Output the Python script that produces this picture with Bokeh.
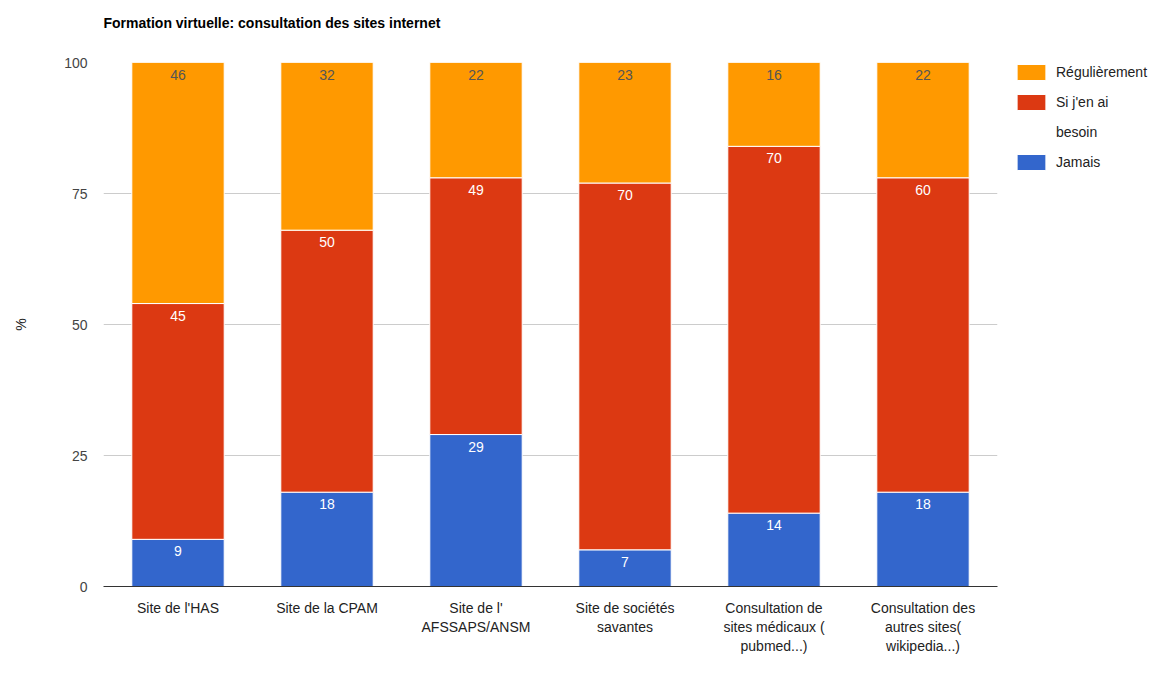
from bokeh.plotting import figure
from bokeh.models import ColumnDataSource, Legend, LegendItem, FixedTicker, Title
from bokeh.embed import file_html
from bokeh.resources import INLINE
from bokeh.core.properties import value

categories = ["Site de l'HAS", "Site de la CPAM", "Site de l'\nAFSSAPS/ANSM",
              "Site de sociétés\nsavantes", "Consultation de\nsites médicaux (\npubmed...)",
              "Consultation des\nautres sites(\nwikipedia...)"]
jamais = [9, 18, 29, 7, 14, 18]
besoin = [45, 50, 49, 70, 70, 60]
regulier = [46, 32, 22, 23, 16, 22]
series = ["Jamais", "Si j'en ai", "Régulièrement"]
series_cont = "besoin"
colors = ["#3366CC", "#DC3912", "#FF9900"]
yticks = [0, 25, 50, 75, 100]
title_text = "Formation virtuelle: consultation des sites internet"

FONT = "Liberation Sans"

src = ColumnDataSource(dict(cat=categories, j=jamais, b=besoin, r=regulier))

p = figure(x_range=categories, y_range=(0, 100), frame_width=894, frame_height=524,
           output_backend="svg", toolbar_location=None, title_location=None,
           min_border_left=103, min_border_top=62, min_border_bottom=70, min_border_right=160)

# spacer between title and plot area
p.add_layout(Title(text=" ", text_font_size="20px", standoff=3), "above")
p.add_layout(Title(text=title_text, text_font=FONT, text_font_size="14px",
                   text_font_style="bold", text_color="#000000", offset=0, standoff=10),
             "above")

renderers = p.vbar_stack(["j", "b", "r"], x="cat", width=0.62, color=colors,
                         line_color="white", line_width=1, source=src)
# invisible renderer, only used for the second line of a legend label
blank = p.vbar(x=[], top=[], width=0.5, fill_alpha=0, line_alpha=0)

tops_j = jamais
tops_b = [a + b for a, b in zip(jamais, besoin)]
tops_r = [a + b + c for a, b, c in zip(jamais, besoin, regulier)]
lab = ColumnDataSource(dict(
    x=categories * 3,
    y=tops_j + tops_b + tops_r,
    t=[str(v) for v in jamais + besoin + regulier],
    c=["#ffffff"] * 12 + ["#555555"] * 6))
p.text(x="x", y="y", text="t", text_color="c", source=lab, y_offset=7,
       text_align="center", text_baseline="top", text_font=value(FONT),
       text_font_size="14px")

items = [LegendItem(label=series[2], renderers=[renderers[2]]),
         LegendItem(label=series[1], renderers=[renderers[1]]),
         LegendItem(label=series_cont, renderers=[blank]),
         LegendItem(label=series[0], renderers=[renderers[0]])]
legend = Legend(items=items, location=(16, 414), border_line_color=None,
                background_fill_alpha=0,
                label_text_font=FONT, label_text_font_size="14px", label_text_color="#222222",
                glyph_width=36, glyph_height=20, label_standoff=7, spacing=10,
                padding=0, margin=0)
legend.label_height = 20
p.add_layout(legend, "right")

p.yaxis.ticker = FixedTicker(ticks=yticks)
p.yaxis.axis_line_color = None
p.yaxis.major_tick_line_color = None
p.yaxis.minor_tick_line_color = None
p.yaxis.major_tick_out = 0
p.yaxis.major_tick_in = 0
p.yaxis.major_label_text_font = FONT
p.yaxis.major_label_text_font_size = "14px"
p.yaxis.major_label_text_color = "#444444"
p.yaxis.major_label_standoff = 16
p.yaxis.axis_label = "%"
p.yaxis.axis_label_text_font = FONT
p.yaxis.axis_label_text_font_size = "14px"
p.yaxis.axis_label_text_font_style = "normal"
p.yaxis.axis_label_text_color = "#222222"
p.yaxis.axis_label_standoff = 32

p.xaxis.axis_line_color = "#333333"
p.xaxis.major_tick_line_color = None
p.xaxis.minor_tick_line_color = None
p.xaxis.major_tick_out = 0
p.xaxis.major_tick_in = 0
p.xaxis.major_label_text_font = FONT
p.xaxis.major_label_text_font_size = "14px"
p.xaxis.major_label_text_color = "#222222"
p.xaxis.major_label_standoff = 13

p.xgrid.grid_line_color = None
p.ygrid.grid_line_color = "#cccccc"
p.outline_line_color = None
p.x_range.range_padding = 0

open("out.html", "w").write(file_html(p, INLINE))
